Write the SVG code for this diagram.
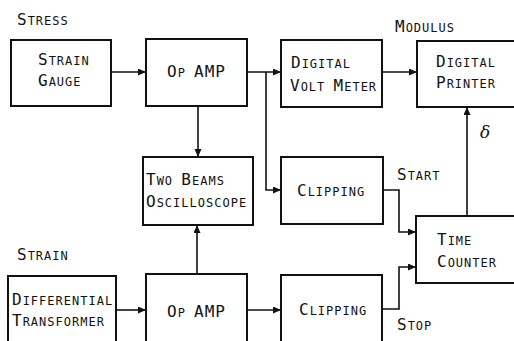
<svg xmlns="http://www.w3.org/2000/svg" width="514" height="341" viewBox="0 0 514 341">
<defs>
<marker id="ah" markerWidth="9" markerHeight="8" refX="8" refY="3.5" orient="auto" markerUnits="userSpaceOnUse">
<path d="M0,0 L8,3.5 L0,7 z" fill="#111"/>
</marker>
<style>
rect{fill:#fff;stroke:#111;stroke-width:2}
#connectors path{fill:none;stroke:#111;stroke-width:1.6;marker-end:url(#ah)}
text{font-family:"DejaVu Sans Mono","Liberation Mono",monospace;font-size:12px;fill:#111;letter-spacing:1px}
.b{font-size:16px}
.d{font-family:"DejaVu Serif","Liberation Serif",serif;font-style:italic;font-size:17px;letter-spacing:0}
</style>
</defs>
<rect x="0" y="0" width="514" height="341" style="stroke:none"/>
<g id="connectors">
<path d="M111,72 H146"/>
<path d="M247,72 H281"/>
<path d="M266,72 V190 H281"/>
<path d="M198,106 V157"/>
<path d="M382,72 H417"/>
<path d="M383,190 H399 V232 H416"/>
<path d="M382,309 H399 V267 H416"/>
<path d="M467,216 V107"/>
<path d="M197,274 V225"/>
<path d="M116,310 H146"/>
<path d="M247,310 H281"/>
</g>
<g id="labels">
<text x="17" y="25"><tspan class="b">S</tspan>TRESS</text>
<text x="17" y="260"><tspan class="b">S</tspan>TRAIN</text>
<text x="395" y="32"><tspan class="b">M</tspan>ODULUS</text>
<text x="397" y="180"><tspan class="b">S</tspan>TART</text>
<text x="397" y="330"><tspan class="b">S</tspan>TOP</text>
<text class="d" x="480" y="138">δ</text>
</g>
<g id="strain-gauge">
<rect x="11" y="40" width="100" height="66"/>
<text x="38" y="65"><tspan class="b">S</tspan>TRAIN</text>
<text x="38" y="86"><tspan class="b">G</tspan>AUGE</text>
</g>
<g id="op-amp-1">
<rect x="146" y="39" width="101" height="67"/>
<text x="167" y="77"><tspan class="b">O</tspan>P <tspan class="b">AMP</tspan></text>
</g>
<g id="digital-volt-meter">
<rect x="281" y="40" width="101" height="67"/>
<text x="291" y="68"><tspan class="b">D</tspan>IGITAL</text>
<text x="290" y="91"><tspan class="b">V</tspan>OLT <tspan class="b">M</tspan>ETER</text>
</g>
<g id="digital-printer">
<rect x="417" y="41" width="110" height="66"/>
<text x="436" y="67"><tspan class="b">D</tspan>IGITAL</text>
<text x="436" y="88"><tspan class="b">P</tspan>RINTER</text>
</g>
<g id="oscilloscope">
<rect x="143" y="157" width="110" height="68"/>
<text x="146" y="185"><tspan class="b">T</tspan>WO <tspan class="b">B</tspan>EAMS</text>
<text x="146" y="207"><tspan class="b">O</tspan>SCILLOSCOPE</text>
</g>
<g id="clipping-1">
<rect x="281" y="157" width="102" height="67"/>
<text x="297" y="196"><tspan class="b">C</tspan>LIPPING</text>
</g>
<g id="time-counter">
<rect x="416" y="216" width="110" height="67"/>
<text x="437" y="245"><tspan class="b">T</tspan>IME</text>
<text x="437" y="267"><tspan class="b">C</tspan>OUNTER</text>
</g>
<g id="differential-transformer">
<rect x="8" y="276" width="108" height="80"/>
<text x="12" y="305"><tspan class="b">D</tspan>IFFERENTIAL</text>
<text x="12" y="326"><tspan class="b">T</tspan>RANSFORMER</text>
</g>
<g id="op-amp-2">
<rect x="146" y="274" width="101" height="80"/>
<text x="167" y="317"><tspan class="b">O</tspan>P <tspan class="b">AMP</tspan></text>
</g>
<g id="clipping-2">
<rect x="281" y="275" width="101" height="80"/>
<text x="299" y="315"><tspan class="b">C</tspan>LIPPING</text>
</g>
</svg>
